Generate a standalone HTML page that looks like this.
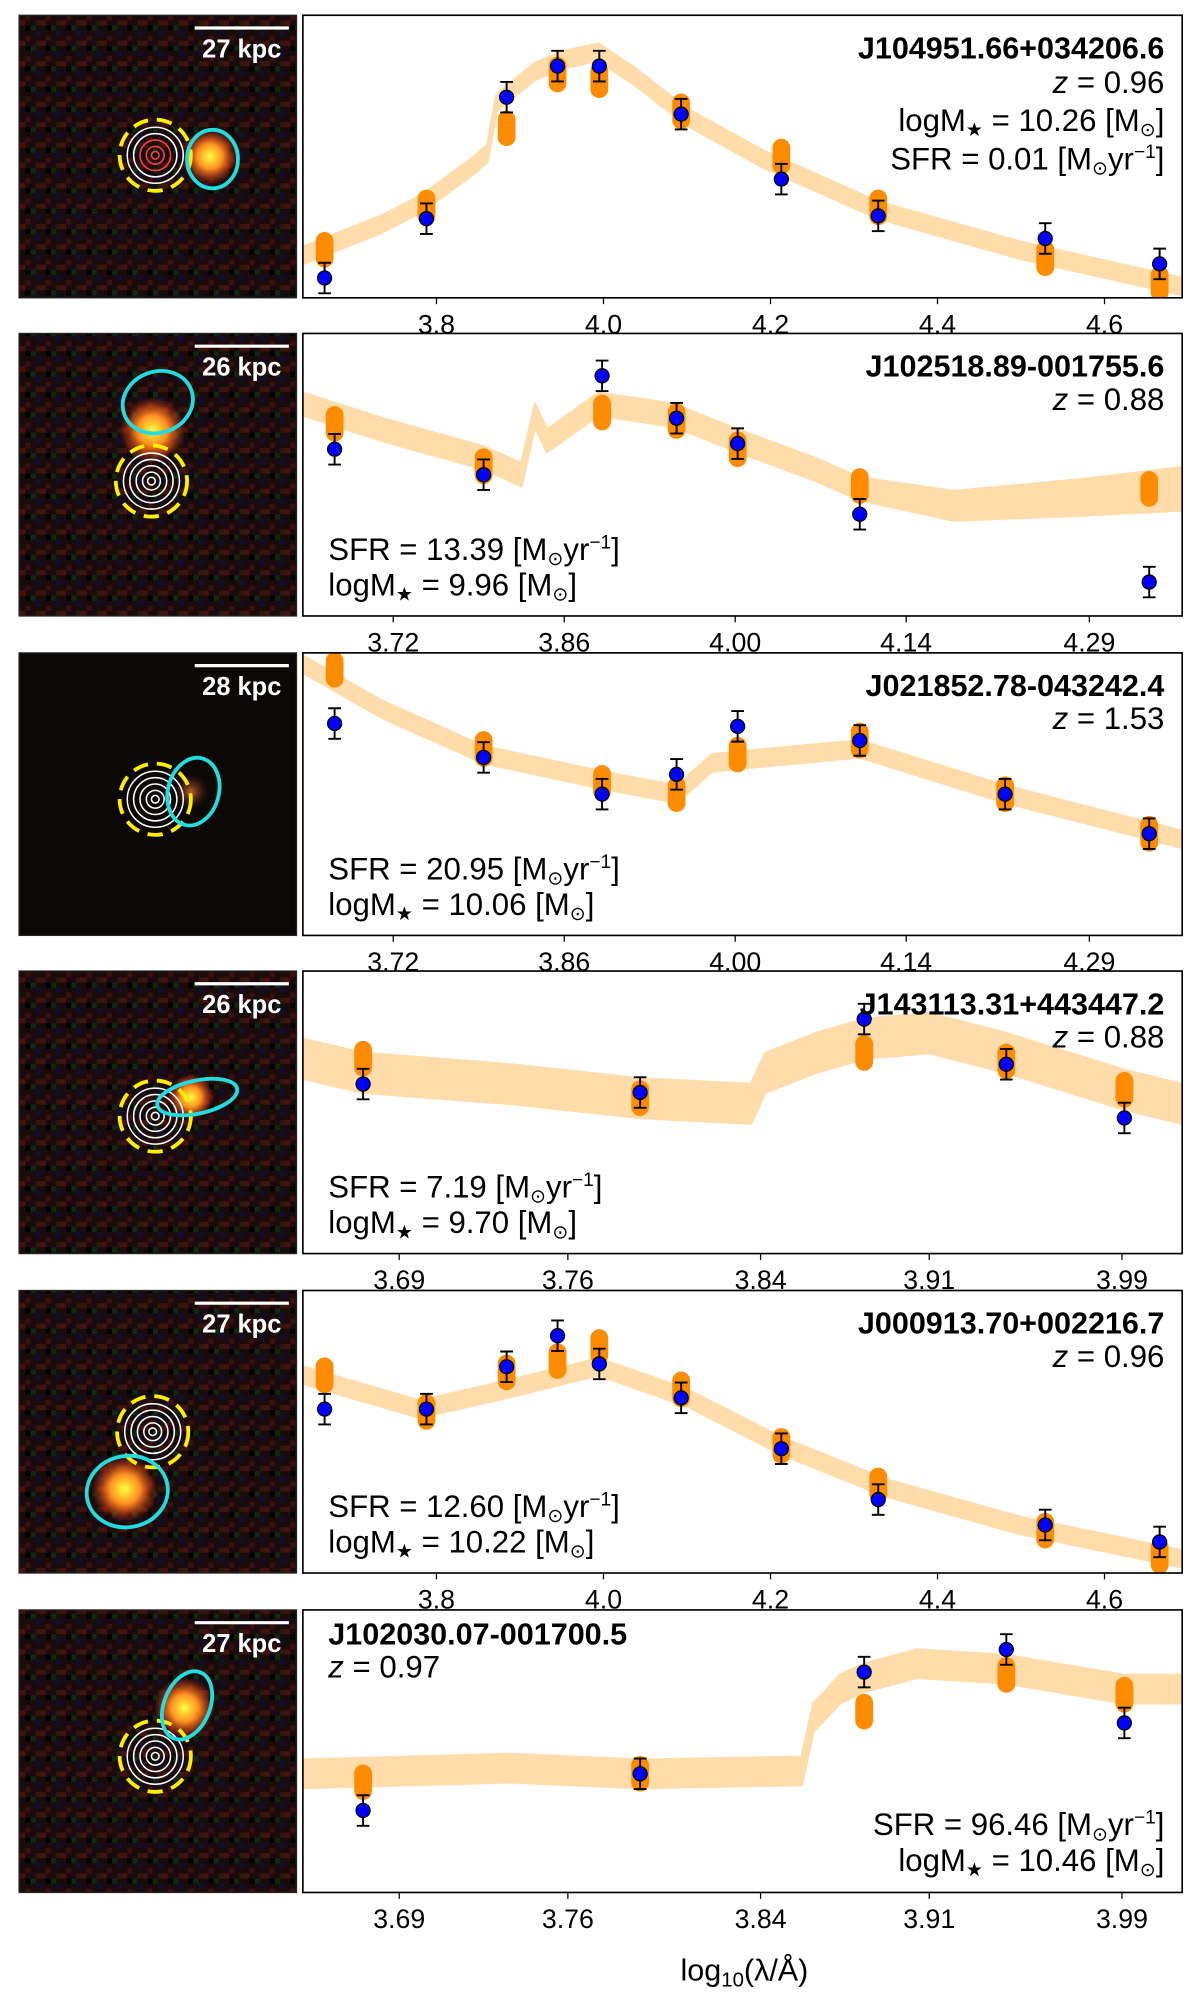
<!DOCTYPE html>
<html><head><meta charset="utf-8"><style>
html,body{margin:0;padding:0;background:#fff}
svg{display:block}
text{font-family:"Liberation Sans",sans-serif}
</style></head><body>
<svg id="fig" width="1200" height="2007" viewBox="0 0 943 1577" preserveAspectRatio="none" xmlns="http://www.w3.org/2000/svg">
<defs>
<pattern id="noise" width="16" height="16" patternUnits="userSpaceOnUse">
<rect width="16" height="16" fill="#1a0c0c"/>
<rect x="0" y="0" width="4" height="4" fill="#4a0f0f"/>
<rect x="8" y="4" width="4" height="4" fill="#0f2a10"/>
<rect x="4" y="12" width="4" height="4" fill="#3a1010"/>
<rect x="12" y="8" width="4" height="4" fill="#10102e"/>
<rect x="12" y="0" width="4" height="4" fill="#2d1a0e"/>
<rect x="4" y="4" width="4" height="4" fill="#000"/>
</pattern>
<radialGradient id="blob"><stop offset="0" stop-color="#ffff40"/><stop offset="0.45" stop-color="#ff9020"/><stop offset="1" stop-color="#ff3010" stop-opacity="0"/></radialGradient>
<radialGradient id="blob2"><stop offset="0" stop-color="#c06030"/><stop offset="1" stop-color="#402010" stop-opacity="0"/></radialGradient>
</defs>
<g id="thumbs"></g>
<g id="panels"></g>
<text x="585" y="1556" text-anchor="middle" font-size="24">log<tspan font-size="16" dy="5">10</tspan><tspan dy="-5">(λ/Å)</tspan></text>
</svg>
<script>
// ---- data (x = log10 wavelength, y = normalized flux 0..1) ----
const bandX1=[3.64,3.734,3.780,3.841,3.861,3.872,3.917,3.948,3.994,4.039,4.100,4.192,4.329,4.497,4.693];
const bandY1=[0.15,0.26,0.33,0.46,0.51,0.69,0.80,0.84,0.87,0.78,0.64,0.49,0.31,0.17,0.04];
const obsX1=[3.666,3.788,3.884,3.945,3.995,4.093,4.213,4.329,4.529,4.666];
const obsY1=[0.07,0.28,0.71,0.82,0.82,0.65,0.42,0.29,0.21,0.12];
const modY1=[0.17,0.32,0.60,0.79,0.77,0.66,0.50,0.32,0.14,0.05];

const bandX2=[3.646,3.711,3.794,3.825,3.836,3.846,3.888,3.950,4.002,4.065,4.102,4.179,4.284,4.366];
const bandY2=[0.75,0.66,0.56,0.50,0.71,0.62,0.75,0.71,0.62,0.52,0.45,0.39,0.42,0.45];
const obsX2=[3.672,3.794,3.891,3.952,4.002,4.102,4.339];
const obsY2=[0.59,0.50,0.85,0.70,0.61,0.36,0.12];
const modY2=[0.68,0.53,0.72,0.69,0.59,0.46,0.45];

const bandX3=[3.646,3.711,3.794,3.891,3.952,3.981,4.002,4.102,4.221,4.366];
const bandY3=[0.96,0.80,0.64,0.55,0.50,0.61,0.62,0.66,0.50,0.34];
const obsX3=[3.672,3.794,3.891,3.952,4.002,4.102,4.221,4.339];
const obsY3=[0.75,0.63,0.50,0.57,0.74,0.69,0.50,0.36];
const modY3=[0.94,0.66,0.54,0.50,0.64,0.69,0.50,0.36];

const bandX4=[3.650,3.675,3.736,3.790,3.836,3.842,3.863,3.883,3.910,3.942,3.991,4.015];
const bandY4=[0.69,0.64,0.60,0.55,0.53,0.64,0.71,0.76,0.78,0.71,0.58,0.53];
const obsX4=[3.675,3.790,3.883,3.942,3.991];
const obsY4=[0.60,0.57,0.83,0.67,0.48];
const modY4=[0.69,0.55,0.71,0.68,0.58];

const bandX5=[3.64,3.780,3.884,3.994,4.100,4.213,4.340,4.497,4.693];
const bandY5=[0.70,0.58,0.65,0.73,0.62,0.45,0.30,0.17,0.05];
const obsX5=obsX1;
const obsY5=[0.58,0.58,0.73,0.84,0.74,0.62,0.44,0.26,0.17,0.11];
const modY5=[0.70,0.57,0.71,0.75,0.80,0.65,0.45,0.31,0.15,0.06];

const bandX6=[3.650,3.736,3.790,3.857,3.862,3.873,3.883,3.905,3.942,3.991,4.015];
const bandY6=[0.42,0.44,0.42,0.43,0.62,0.72,0.76,0.81,0.79,0.72,0.72];
const obsX6=obsX4;
const obsY6=[0.29,0.42,0.78,0.86,0.60];
const modY6=[0.39,0.42,0.64,0.77,0.70];

const ticks1=[3.8,4.0,4.2,4.4,4.6], tickLab1=["3.8","4.0","4.2","4.4","4.6"];
const ticks2=[3.72,3.86,4.00,4.14,4.29], tickLab2=["3.72","3.86","4.00","4.14","4.29"];
const ticks4=[3.69,3.76,3.84,3.91,3.99], tickLab4=["3.69","3.76","3.84","3.91","3.99"];

const names=["J104951.66+034206.6","J102518.89-001755.6","J021852.78-043242.4","J143113.31+443447.2","J000913.70+002216.7","J102030.07-001700.5"];
const zs=["0.96","0.88","1.53","0.88","0.96","0.97"];
const sfrs=["0.01","13.39","20.95","7.19","12.60","96.46"];
const masses=["10.26","9.96","10.06","9.70","10.22","10.46"];
const kpcs=["27","26","28","26","27","27"];

// ---- layout ----
const NS="http://www.w3.org/2000/svg";
const bottoms=[234,484,735,985,1236,1487];
const H=222, PX0=238, PX1=929, TX0=15, TX1=233;
const panels=[
 {bx:bandX1,by:bandY1,ox:obsX1,oy:obsY1,my:modY1,dom:[3.64,4.693],t:ticks1,tl:tickLab1,w:0.03,lay:"tr"},
 {bx:bandX2,by:bandY2,ox:obsX2,oy:obsY2,my:modY2,dom:[3.646,4.366],t:ticks2,tl:tickLab2,w:0.04,lay:"bl"},
 {bx:bandX3,by:bandY3,ox:obsX3,oy:obsY3,my:modY3,dom:[3.646,4.366],t:ticks2,tl:tickLab2,w:0.03,lay:"bl"},
 {bx:bandX4,by:bandY4,ox:obsX4,oy:obsY4,my:modY4,dom:[3.650,4.015],t:ticks4,tl:tickLab4,w:0.07,lay:"bl"},
 {bx:bandX5,by:bandY5,ox:obsX5,oy:obsY5,my:modY5,dom:[3.64,4.693],t:ticks1,tl:tickLab1,w:0.03,lay:"bl"},
 {bx:bandX6,by:bandY6,ox:obsX6,oy:obsY6,my:modY6,dom:[3.650,4.015],t:ticks4,tl:tickLab4,w:0.05,lay:"tl_br"}
];
const thumbs=[
 {y:[122,28],c:[167,125,20,23,0],blob:[165,123,22]},
 {y:[119,378],c:[124,316,28,24,-20],blob:[120,338,26]},
 {y:[122,628],c:[152,622,20,27,15],blob:[150,622,14]},
 {y:[122,877],c:[155,862,32,13,-12],blob:[150,862,18]},
 {y:[120,1125],c:[100,1172,32,28,-10],blob:[98,1170,26]},
 {y:[122,1380],c:[147,1340,18,28,22],blob:[145,1342,24]}
];
function el(tag,attrs,parent){const e=document.createElementNS(NS,tag);for(const k in attrs)e.setAttribute(k,attrs[k]);parent.appendChild(e);return e;}
const gT=document.getElementById('thumbs'), gP=document.getElementById('panels');

thumbs.forEach((t,i)=>{
 const bot=bottoms[i], top=bot-H;
 const g=el('g',{},gT);
 
 
 el('rect',{x:TX0,y:top,width:TX1-TX0,height:H,fill:i==2?'#0c0806':'url(#noise)',stroke:'#222'},g);
 el('circle',{cx:t.blob[0],cy:t.blob[1],r:t.blob[2],fill:i==2?'url(#blob2)':'url(#blob)'},g);
 const yc=t.y[0], yy=(i==0)?122:t.y[1];
 [22,17,12,7,3].forEach((r,k)=>el('circle',{cx:yc,cy:yy,r:r,fill:'none',stroke:(i==0&&k>1)?'#ff4040':'#fff','stroke-width':1.2},g));
 const yc1=el('circle',{cx:yc,cy:yy,r:28,fill:'none',stroke:'#ffee00','stroke-width':3,'stroke-dasharray':'12 7'},g);
 
 
 const c=t.c;
 const ce=el('ellipse',{cx:c[0],cy:c[1],rx:c[2],ry:c[3],fill:'none',stroke:'#22dde0','stroke-width':3,transform:`rotate(${c[4]} ${c[0]} ${c[1]})`},g);
 
 
 el('line',{x1:153,x2:227,y1:top+10,y2:top+10,stroke:'#fff','stroke-width':2.5},g);
 const st=el('text',{x:190,y:top+33,'text-anchor':'middle',fill:'#fff','font-size':20,'font-weight':'bold'},g);
 st.textContent=kpcs[i]+' kpc';
 
 
});

panels.forEach((p,i)=>{
 const bot=bottoms[i], top=bot-H;
 const g=el('g',{},gP);
 
 
 const xs=v=>PX0+(v-p.dom[0])/(p.dom[1]-p.dom[0])*(PX1-PX0);
 const ys=v=>bot-v*H;
 const cid='clip'+i;
 const cp=el('clipPath',{id:cid},g); el('rect',{x:PX0,y:top,width:PX1-PX0,height:H},cp);
 const gg=el('g',{'clip-path':`url(#${cid})`},g);
 let up=[],dn=[];
 p.bx.forEach((x,k)=>{const w=p.w*(i==1&&k>=p.bx.length-3?1+(k-p.bx.length+4)*0.3:1);up.push(xs(x).toFixed(1)+','+ys(p.by[k]+w).toFixed(1));dn.unshift(xs(x).toFixed(1)+','+ys(p.by[k]-w).toFixed(1));});
 const band=el('polygon',{points:up.concat(dn).join(' '),fill:'#ffdcaa','stroke':'#ffdcaa','stroke-width':2,'stroke-linejoin':'round'},gg);
 
 
 p.ox.forEach((x,k)=>{
  const r=el('rect',{x:xs(x)-7,y:ys(p.my[k])-14,width:14,height:28,rx:7,fill:'#ff8c00'},gg);
  
  
 });
 p.ox.forEach((x,k)=>{
  const cx=xs(x), cy=ys(p.oy[k]), e=12;
  el('line',{x1:cx,x2:cx,y1:cy-e,y2:cy+e,stroke:'#000','stroke-width':1.5},gg);
  el('line',{x1:cx-5,x2:cx+5,y1:cy-e,y2:cy-e,stroke:'#000','stroke-width':1.5},gg);
  el('line',{x1:cx-5,x2:cx+5,y1:cy+e,y2:cy+e,stroke:'#000','stroke-width':1.5},gg);
  const c=el('circle',{cx:cx,cy:cy,r:5.5,fill:'#0000ff',stroke:'#000','stroke-width':1},gg);
  
  
 });
 const fr=el('rect',{x:PX0,y:top,width:PX1-PX0,height:H,fill:'none',stroke:'#000','stroke-width':1.3},g);
 
 
 p.t.forEach((v,k)=>{
  const x=xs(v);
  el('line',{x1:x,x2:x,y1:bot,y2:bot+5,stroke:'#000','stroke-width':1},g);
  const tl=el('text',{x:x,y:bot+28,'text-anchor':'middle','font-size':21},g);
  tl.textContent=p.tl[k];
  
  
 });
 function txt(x,y,anchor,html,name,bold){
  const t=el('text',{x:x,y:y,'text-anchor':anchor,'font-size':bold?24:24.5,'font-weight':bold?'bold':'normal'},g);
  t.innerHTML=html;
  
  
 }
 const nm=names[i], zt='<tspan font-style="italic">z</tspan> = '+zs[i];
 const ms='logM<tspan font-size="15" dy="4">★</tspan><tspan dy="-4"> = '+masses[i]+' [M</tspan><tspan font-size="15" dy="4">⊙</tspan><tspan dy="-4">]</tspan>';
 const sf='SFR = '+sfrs[i]+' [M<tspan font-size="15" dy="4">⊙</tspan><tspan dy="-4">yr</tspan><tspan font-size="15" dy="-9">−1</tspan><tspan dy="9">]</tspan>';
 if(p.lay=="tr"){
  txt(915,top+34,'end',nm,'object-name',true); txt(915,top+61,'end',zt,'redshift-label');
  txt(915,top+91,'end',ms,'stellar-mass-label'); txt(915,top+121,'end',sf,'sfr-label');
 } else if(p.lay=="bl"){
  txt(915,top+34,'end',nm,'object-name',true); txt(915,top+60,'end',zt,'redshift-label');
  txt(258,bot-44,'start',sf,'sfr-label'); txt(258,bot-16,'start',ms,'stellar-mass-label');
 } else {
  txt(258,top+27,'start',nm,'object-name',true); txt(258,top+53,'start',zt,'redshift-label');
  txt(915,bot-45,'end',sf,'sfr-label'); txt(915,bot-17,'end',ms,'stellar-mass-label');
 }
});
</script>
</body></html>
